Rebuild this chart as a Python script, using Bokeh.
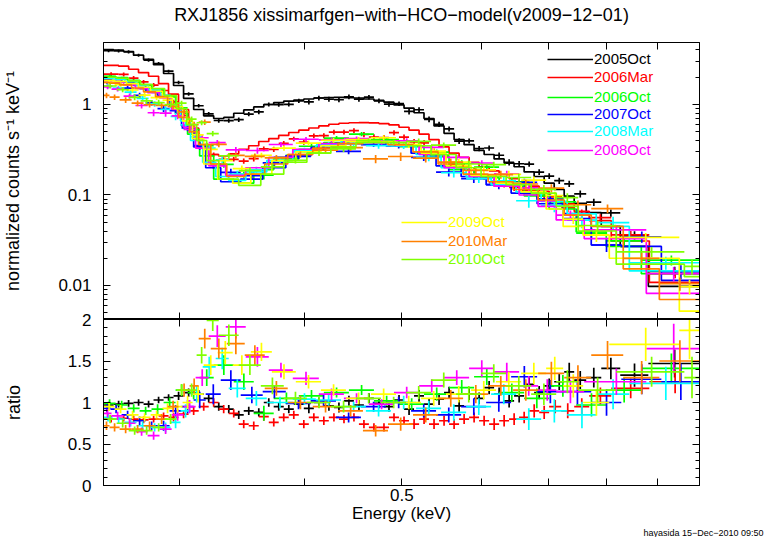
import numpy as np
from bokeh.plotting import figure
from bokeh.models import (Range1d, LogAxis, LinearAxis, FixedTicker, Legend, LegendItem,
                          Title, CustomJSTickFormatter, ColumnDataSource)
from bokeh.layouts import column
from bokeh.embed import file_html
from bokeh.resources import INLINE

FONT = "Liberation Sans"

names = ["2005Oct", "2006Mar", "2006Oct", "2007Oct", "2008Mar",
         "2008Oct", "2009Oct", "2010Mar", "2010Oct"]
colors = ["#000000", "#FF0000", "#00FF00", "#0000FF", "#00FFFF",
          "#FF00FF", "#FFFF00", "#FF8000", "#80FF00"]

# ---------------- data (energy bin edges [keV], model [counts/s/keV], ratio, ratio error)
e_2005oct = [0.2518, 0.2577, 0.2637, 0.2698, 0.2761, 0.2825, 0.2891, 0.2958, 0.3027, 0.3098,
             0.3170, 0.3244, 0.3320, 0.3397, 0.3476, 0.3557, 0.3640, 0.3724, 0.3811, 0.3900,
             0.3991, 0.4084, 0.4179, 0.4277, 0.4376, 0.4478, 0.4582, 0.4689, 0.4798, 0.4910,
             0.5025, 0.5142, 0.5261, 0.5384, 0.5509, 0.5638, 0.5769, 0.5903, 0.6041, 0.6181,
             0.6325, 0.6472, 0.6623, 0.6777, 0.6935, 0.7097, 0.7262, 0.7431, 0.7639, 0.7908,
             0.8261, 0.8812, 0.9912]
mod_2005oct = [4.05, 3.98, 3.85, 3.5, 3.15, 2.75, 2.2, 1.62, 1.17, 0.88,
               0.75, 0.70, 0.72, 0.80, 0.87, 0.94, 1.0, 1.05, 1.09, 1.12,
               1.15, 1.18, 1.19, 1.2, 1.19, 1.18, 1.15, 1.11, 1.06, 0.99,
               0.91, 0.81, 0.70, 0.58, 0.48, 0.41, 0.36, 0.31, 0.28, 0.25,
               0.225, 0.205, 0.18, 0.16, 0.135, 0.115, 0.097, 0.081, 0.064, 0.045,
               0.027, 0.0098]
rat_2005oct = [0.97, 0.98, 0.99, 1.0, 0.98, 1.03, 1.06, 1.08, 1.12, 1.1,
               1.05, 0.95, 0.92, 0.85, 0.9, 0.88, 1.0, 0.95, 0.92, 0.98,
               0.93, 1.0, 0.96, 0.94, 1.02, 0.97, 1.05, 0.99, 0.95, 1.03,
               0.92, 1.08, 0.98, 1.04, 1.12, 0.96, 1.1, 1.05, 1.18, 1.1,
               1.02, 1.08, 1.22, 1.12, 1.2, 1.25, 1.37, 1.27, 1.3, 1.41,
               1.33, 1.47]
err_2005oct = [0.04, 0.04, 0.04, 0.04, 0.04, 0.04, 0.04, 0.05, 0.05, 0.05,
               0.05, 0.05, 0.05, 0.05, 0.05, 0.05, 0.05, 0.05, 0.05, 0.05,
               0.06, 0.06, 0.06, 0.06, 0.06, 0.06, 0.06, 0.06, 0.06, 0.06,
               0.07, 0.07, 0.07, 0.07, 0.07, 0.07, 0.07, 0.07, 0.08, 0.08,
               0.08, 0.08, 0.08, 0.08, 0.09, 0.1, 0.11, 0.11, 0.12, 0.13,
               0.14, 0.17]

e_2006mar = [0.2518, 0.2607, 0.2668, 0.2729, 0.2793, 0.2858, 0.2924, 0.2992, 0.3062, 0.3134,
             0.3207, 0.3281, 0.3358, 0.3436, 0.3516, 0.3598, 0.3682, 0.3767, 0.3855, 0.3945,
             0.4037, 0.4131, 0.4227, 0.4327, 0.4427, 0.4530, 0.4635, 0.4743, 0.4854, 0.4967,
             0.5083, 0.5202, 0.5322, 0.5446, 0.5573, 0.5703, 0.5836, 0.5971, 0.6111, 0.6253,
             0.6398, 0.6547, 0.6700, 0.6856, 0.7015, 0.7212, 0.7431, 0.7692, 0.8092, 0.8832,
             0.9912]
mod_2006mar = [2.7, 2.65, 2.45, 2.25, 2.05, 1.7, 1.3, 0.88, 0.55, 0.36,
               0.28, 0.27, 0.285, 0.32, 0.35, 0.39, 0.42, 0.455, 0.49, 0.52,
               0.55, 0.58, 0.605, 0.62, 0.628, 0.63, 0.625, 0.615, 0.595, 0.56,
               0.52, 0.47, 0.41, 0.34, 0.29, 0.26, 0.23, 0.205, 0.185, 0.17,
               0.152, 0.138, 0.125, 0.11, 0.097, 0.08, 0.066, 0.052, 0.031, 0.0108]
rat_2006mar = [0.80, 0.81, 0.80, 0.79, 0.80, 0.84, 0.82, 0.86, 0.90, 0.95,
               1.0, 0.92, 0.87, 0.74, 0.72, 0.83, 0.76, 0.82, 0.85, 0.74,
               0.82, 0.78, 0.82, 0.8, 0.82, 0.74, 0.70, 0.70, 0.82, 0.78,
               0.74, 0.8, 0.74, 0.78, 0.74, 0.8, 0.82, 0.78, 0.74, 0.78,
               0.8, 0.82, 0.90, 0.88, 0.95, 0.9, 0.95, 1.08, 1.17, 1.25]
err_2006mar = [0.04, 0.04, 0.04, 0.04, 0.04, 0.04, 0.05, 0.05, 0.05, 0.05,
               0.05, 0.05, 0.05, 0.05, 0.05, 0.05, 0.05, 0.05, 0.05, 0.05,
               0.05, 0.05, 0.05, 0.05, 0.05, 0.05, 0.05, 0.05, 0.05, 0.05,
               0.06, 0.06, 0.06, 0.06, 0.06, 0.06, 0.06, 0.06, 0.07, 0.07,
               0.07, 0.07, 0.08, 0.08, 0.08, 0.09, 0.1, 0.1, 0.12, 0.14]

e_2006oct = [0.2518, 0.2589, 0.2662, 0.2736, 0.2812, 0.2891, 0.2972, 0.3055, 0.3141, 0.3244,
             0.3397, 0.3557, 0.3724, 0.3945, 0.4179, 0.4427, 0.4689, 0.4967, 0.5261, 0.5573,
             0.5903, 0.6253, 0.6623, 0.7015, 0.7465, 0.8000, 0.8671, 0.9912]
mod_2006oct = [2.05, 1.98, 1.85, 1.66, 1.48, 1.22, 0.80, 0.47, 0.27, 0.15,
               0.135, 0.19, 0.25, 0.32, 0.38, 0.41, 0.40, 0.35, 0.27, 0.19,
               0.155, 0.125, 0.098, 0.07, 0.039, 0.027, 0.0135]
rat_2006oct = [0.99, 0.97, 0.93, 0.9, 0.92, 1.0, 1.15, 1.12, 1.3, 1.45,
               1.25, 0.87, 1.05, 1.08, 1.12, 1.15, 1.02, 0.98, 1.1, 1.18,
               1.31, 1.12, 1.05, 1.2, 0.97, 1.15, 1.41]
err_2006oct = [0.05, 0.05, 0.05, 0.05, 0.06, 0.06, 0.07, 0.08, 0.1, 0.12,
               0.1, 0.09, 0.07, 0.07, 0.06, 0.06, 0.06, 0.07, 0.08, 0.09,
               0.1, 0.11, 0.12, 0.13, 0.14, 0.15, 0.18]

e_2007oct = [0.2518, 0.2559, 0.2625, 0.2698, 0.2774, 0.2851, 0.2931, 0.3013, 0.3098, 0.3185,
             0.3297, 0.3452, 0.3631, 0.3829, 0.4056, 0.4297, 0.4551, 0.4820, 0.5107, 0.5409,
             0.5730, 0.6069, 0.6428, 0.6824, 0.7245, 0.7728, 0.8281, 0.9080, 0.9912]
mod_2007oct = [1.9, 1.88, 1.78, 1.62, 1.45, 1.25, 0.95, 0.58, 0.34, 0.2,
               0.14, 0.15, 0.2, 0.27, 0.33, 0.37, 0.38, 0.35, 0.29, 0.21,
               0.16, 0.13, 0.105, 0.08, 0.055, 0.028, 0.027, 0.0114]
rat_2007oct = [0.93, 0.92, 0.85, 0.78, 0.72, 0.72, 0.9, 0.95, 1.03, 1.1,
               1.27, 1.09, 1.13, 0.99, 1.02, 0.82, 0.95, 1.0, 0.9, 0.85,
               0.95, 1.0, 1.31, 1.13, 1.13, 1.0, 1.28, 1.25]
err_2007oct = [0.05, 0.05, 0.05, 0.05, 0.05, 0.06, 0.07, 0.08, 0.1, 0.12,
               0.12, 0.1, 0.08, 0.07, 0.07, 0.06, 0.06, 0.07, 0.08, 0.09,
               0.1, 0.11, 0.13, 0.14, 0.15, 0.16, 0.18, 0.22]

e_2008mar = [0.2518, 0.2571, 0.2643, 0.2717, 0.2793, 0.2871, 0.2938, 0.3006, 0.3076, 0.3163,
             0.3259, 0.3358, 0.3492, 0.3665, 0.3891, 0.4103, 0.4347, 0.4603, 0.4876, 0.5166,
             0.5472, 0.5796, 0.6139, 0.6502, 0.6887, 0.7312, 0.7817, 0.8435, 0.9912]
mod_2008mar = [1.95, 1.9, 1.8, 1.62, 1.45, 1.26, 0.97, 0.66, 0.4, 0.23,
               0.16, 0.145, 0.18, 0.24, 0.3, 0.35, 0.39, 0.39, 0.35, 0.28,
               0.2, 0.16, 0.13, 0.108, 0.085, 0.062, 0.045, 0.0145]
rat_2008mar = [0.82, 0.8, 0.76, 0.72, 0.7, 0.7, 0.76, 0.9, 1.1, 1.43,
               1.53, 1.17, 1.05, 1.0, 1.04, 1.03, 0.95, 0.9, 1.0, 0.93,
               0.88, 0.95, 1.1, 0.8, 0.9, 0.85, 1.1, 1.23]
err_2008mar = [0.05, 0.05, 0.05, 0.05, 0.05, 0.06, 0.07, 0.08, 0.1, 0.12,
               0.13, 0.11, 0.09, 0.07, 0.07, 0.07, 0.06, 0.07, 0.08, 0.09,
               0.1, 0.1, 0.12, 0.13, 0.14, 0.16, 0.18, 0.2]

e_2008oct = [0.2518, 0.2565, 0.2637, 0.2710, 0.2787, 0.2864, 0.2945, 0.3027, 0.3112, 0.3207,
             0.3335, 0.3492, 0.3682, 0.3891, 0.4131, 0.4376, 0.4635, 0.4910, 0.5202, 0.5509,
             0.5836, 0.6181, 0.6547, 0.6840, 0.7130, 0.7604, 0.8771, 0.9912]
mod_2008oct = [1.8, 1.76, 1.65, 1.5, 1.35, 1.18, 0.88, 0.56, 0.33, 0.21,
               0.165, 0.2, 0.26, 0.32, 0.37, 0.4, 0.39, 0.355, 0.28, 0.2,
               0.16, 0.125, 0.1, 0.075, 0.053, 0.033, 0.0082]
rat_2008oct = [0.87, 0.84, 0.75, 0.65, 0.6, 0.68, 0.85, 0.95, 1.3, 1.8,
               1.91, 1.55, 1.39, 1.29, 1.1, 1.05, 0.98, 1.12, 1.2, 1.3,
               1.41, 1.37, 1.2, 1.15, 1.13, 1.25, 1.65]
err_2008oct = [0.05, 0.05, 0.05, 0.05, 0.05, 0.06, 0.07, 0.08, 0.1, 0.13,
               0.14, 0.12, 0.09, 0.08, 0.07, 0.06, 0.06, 0.07, 0.08, 0.09,
               0.1, 0.11, 0.12, 0.13, 0.14, 0.16, 0.3]

e_2009oct = [0.2518, 0.2583, 0.2655, 0.2729, 0.2806, 0.2884, 0.2951, 0.3020, 0.3090, 0.3170,
             0.3274, 0.3389, 0.3533, 0.3708, 0.3918, 0.4151, 0.4396, 0.4657, 0.4933, 0.5226,
             0.5534, 0.5863, 0.6209, 0.6578, 0.6967, 0.7245, 0.7586, 0.8055, 0.9463, 0.9912]
mod_2009oct = [1.85, 1.8, 1.7, 1.55, 1.4, 1.2, 0.95, 0.66, 0.42, 0.22,
               0.15, 0.135, 0.17, 0.24, 0.3, 0.35, 0.39, 0.39, 0.36, 0.29,
               0.21, 0.165, 0.135, 0.108, 0.07, 0.045, 0.036, 0.02, 0.0052]
rat_2009oct = [0.95, 0.92, 0.85, 0.82, 0.85, 0.93, 0.95, 1.0, 1.1, 1.45,
               1.6, 1.45, 1.61, 1.37, 1.25, 1.15, 1.05, 1.1, 1.0, 1.05,
               1.1, 1.15, 1.25, 1.35, 1.41, 1.2, 1.0, 1.7, 1.87]
err_2009oct = [0.05, 0.05, 0.05, 0.05, 0.05, 0.06, 0.07, 0.08, 0.1, 0.12,
               0.14, 0.12, 0.11, 0.09, 0.08, 0.07, 0.07, 0.07, 0.08, 0.09,
               0.1, 0.11, 0.12, 0.13, 0.14, 0.14, 0.16, 0.2, 0.35]

e_2010mar = [0.2518, 0.2553, 0.2613, 0.2686, 0.2761, 0.2838, 0.2918, 0.2992, 0.3069, 0.3134,
             0.3222, 0.3343, 0.3484, 0.3648, 0.3846, 0.4074, 0.4317, 0.4572, 0.4843, 0.5130,
             0.5434, 0.5756, 0.6097, 0.6457, 0.6840, 0.7262, 0.7728, 0.8318, 0.9038, 0.9912]
mod_2010mar = [1.75, 1.72, 1.65, 1.52, 1.38, 1.22, 1.0, 0.72, 0.5, 0.36,
               0.22, 0.16, 0.17, 0.22, 0.28, 0.33, 0.37, 0.38, 0.36, 0.3,
               0.22, 0.17, 0.14, 0.115, 0.088, 0.06, 0.045, 0.0153, 0.007]
rat_2010mar = [0.72, 0.7, 0.68, 0.68, 0.72, 0.8, 0.95, 1.15, 1.2, 1.77,
               1.65, 1.71, 1.57, 1.17, 1.0, 0.95, 0.9, 0.66, 0.74, 0.85,
               1.05, 1.1, 1.2, 1.15, 1.35, 1.3, 1.57, 1.3, 1.5]
err_2010mar = [0.05, 0.05, 0.05, 0.05, 0.05, 0.06, 0.07, 0.08, 0.09, 0.12,
               0.12, 0.13, 0.12, 0.09, 0.08, 0.07, 0.07, 0.07, 0.08, 0.09,
               0.1, 0.11, 0.12, 0.13, 0.14, 0.15, 0.17, 0.2, 0.25]

e_2010oct = [0.2518, 0.2595, 0.2668, 0.2742, 0.2819, 0.2898, 0.2978, 0.3048, 0.3119, 0.3192,
             0.3282, 0.3436, 0.3615, 0.3811, 0.4019, 0.4247, 0.4499, 0.4765, 0.5048, 0.5347,
             0.5664, 0.5999, 0.6354, 0.6731, 0.7130, 0.7500, 0.8185, 0.9573, 0.9912]
mod_2010oct = [2.0, 1.95, 1.82, 1.66, 1.5, 1.25, 0.9, 0.6, 0.4, 0.24,
               0.15, 0.128, 0.17, 0.23, 0.29, 0.34, 0.38, 0.38, 0.35, 0.28,
               0.2, 0.16, 0.13, 0.105, 0.075, 0.04, 0.0172, 0.0125]
rat_2010oct = [0.8, 0.75, 0.66, 0.66, 0.7, 0.8, 1.15, 1.15, 1.57, 1.99,
               1.81, 1.45, 1.2, 1.05, 1.0, 0.95, 1.05, 1.0, 1.12, 1.27,
               1.1, 1.35, 1.2, 1.1, 1.25, 1.15, 1.37, 1.3]
err_2010oct = [0.05, 0.05, 0.05, 0.05, 0.05, 0.06, 0.07, 0.08, 0.1, 0.13,
               0.13, 0.12, 0.1, 0.08, 0.07, 0.07, 0.06, 0.07, 0.08, 0.09,
               0.1, 0.11, 0.12, 0.13, 0.14, 0.15, 0.18, 0.25]

series = [
    (e_2005oct, mod_2005oct, rat_2005oct, err_2005oct),
    (e_2006mar, mod_2006mar, rat_2006mar, err_2006mar),
    (e_2006oct, mod_2006oct, rat_2006oct, err_2006oct),
    (e_2007oct, mod_2007oct, rat_2007oct, err_2007oct),
    (e_2008mar, mod_2008mar, rat_2008mar, err_2008mar),
    (e_2008oct, mod_2008oct, rat_2008oct, err_2008oct),
    (e_2009oct, mod_2009oct, rat_2009oct, err_2009oct),
    (e_2010mar, mod_2010mar, rat_2010mar, err_2010mar),
    (e_2010oct, mod_2010oct, rat_2010oct, err_2010oct),
]

title_text = "RXJ1856 xissimarfgen\u2212with\u2212HCO\u2212model(v2009\u221212\u221201)"
footer_text = "hayasida 15\u2212Dec\u22122010 09:50"

E_MIN, E_MAX = 0.2518, 0.9912
FLUX_MIN, FLUX_MAX = 0.00421, 4.84
x_ticks = [0.3, 0.4, 0.5, 0.6, 0.7, 0.8, 0.9]
flux_ticks = [0.01, 0.1, 1]
flux_minor = [0.005, 0.006, 0.007, 0.008, 0.009, 0.02, 0.03, 0.04, 0.05, 0.06, 0.07, 0.08, 0.09,
              0.2, 0.3, 0.4, 0.5, 0.6, 0.7, 0.8, 0.9, 2, 3, 4]
ratio_ticks = [0, 0.5, 1, 1.5, 2]
ratio_minor = [0.1, 0.2, 0.3, 0.4, 0.6, 0.7, 0.8, 0.9, 1.1, 1.2, 1.3, 1.4, 1.6, 1.7, 1.8, 1.9]

# ---------------- figures
LW = 1.7
OVERLAP = 11      # lower canvas slides up under the upper one so its "2" label is whole
xr = Range1d(E_MIN, E_MAX)

p1 = figure(frame_width=596, frame_height=277, x_axis_type="log", y_axis_type="log", title=None,
            x_range=xr, y_range=Range1d(FLUX_MIN, FLUX_MAX),
            toolbar_location=None, output_backend="svg",
            min_border_left=103, min_border_right=74, min_border_top=42, min_border_bottom=0)
p2 = figure(frame_width=596, frame_height=166, x_axis_type="log", title=None,
            x_range=xr, y_range=Range1d(0, 2),
            toolbar_location=None, output_backend="svg",
            min_border_left=103, min_border_right=74, min_border_top=OVERLAP, min_border_bottom=52)
try:
    p2.margin = (-OVERLAP, 0, 0, 0)
except Exception:
    p2.styles = {"margin-top": "-%dpx" % OVERLAP}

for p in (p1, p2):
    p.grid.visible = False
    p.outline_line_color = "black"
    p.outline_line_width = 1
    p.background_fill_color = "white"
p1.border_fill_color = "white"
p2.border_fill_alpha = 0

fmt_plain = CustomJSTickFormatter(code="return String(tick);")
fmt_half = CustomJSTickFormatter(code="return (Math.abs(tick - 0.5) < 1e-9) ? '0.5' : '';")


def style(ax, ticks, minor, labelled, fmt=None, tick_in=7, minor_in=4):
    ax.ticker = FixedTicker(ticks=ticks, minor_ticks=minor)
    ax.major_tick_in = tick_in
    ax.major_tick_out = 0
    ax.minor_tick_in = minor_in
    ax.minor_tick_out = 0
    ax.axis_line_color = "black"
    ax.major_tick_line_color = "black"
    ax.minor_tick_line_color = "black"
    if labelled:
        ax.formatter = fmt
        ax.major_label_text_font = FONT
        ax.major_label_text_font_size = "17px"
        ax.major_label_text_color = "black"
    else:
        ax.major_label_text_color = None
        ax.major_label_standoff = 0
    ax.axis_label_text_font = FONT
    ax.axis_label_text_font_size = "18px"
    ax.axis_label_text_font_style = "normal"
    ax.axis_label_text_color = "black"


# upper panel axes
ax = p1.yaxis[0]
style(ax, flux_ticks, flux_minor, True, fmt_plain)
ax.major_label_standoff = 12
ax.axis_label = "normalized counts s\u207b\u00b9 keV\u207b\u00b9"
ax.axis_label_standoff = 32
style(p1.xaxis[0], x_ticks, [], False)
ax_r = LogAxis()
style(ax_r, flux_ticks, flux_minor, False)
p1.add_layout(ax_r, "right")
ax_t = LogAxis()
style(ax_t, x_ticks, [], False)
ax_t.axis_label = title_text          # plot title, centred over the frame
ax_t.axis_label_standoff = 18
p1.add_layout(ax_t, "above")

# lower panel axes
ax = p2.yaxis[0]
style(ax, ratio_ticks, ratio_minor, True, fmt_plain)
ax.major_label_standoff = 12
ax.axis_label = "ratio"
ax.axis_label_standoff = 41
ax = p2.xaxis[0]
style(ax, x_ticks, [], True, fmt_half)
ax.major_label_standoff = 3
ax.axis_label = "Energy (keV)"
ax.axis_label_standoff = 0
ax.axis_label_text_font_size = "17px"
ax_r2 = LinearAxis()
style(ax_r2, ratio_ticks, ratio_minor, False)
p2.add_layout(ax_r2, "right")
ax_t2 = LogAxis()
style(ax_t2, x_ticks, [], False)
p2.add_layout(ax_t2, "above")

footer = Title(text=footer_text, align="right", vertical_align="bottom", offset=-64, standoff=0,
               text_font=FONT, text_font_size="9px", text_font_style="normal", text_color="black")
p2.add_layout(footer, "below")

# ---------------- glyphs
legend_renderers = []
for (edges, model, ratio, rerr), color in zip(series, colors):
    e = np.asarray(edges, dtype=float)
    m = np.asarray(model, dtype=float)
    r = np.asarray(ratio, dtype=float)
    s = np.asarray(rerr, dtype=float)
    lo, hi = e[:-1], e[1:]
    mid = 0.5 * (lo + hi)
    flux = m * r
    ferr = m * s
    step_src = ColumnDataSource(dict(x=e, y=np.append(m, m[-1])))
    p1.step("x", "y", source=step_src, mode="after", line_color=color, line_width=LW)
    h = p1.segment(lo, flux, hi, flux, line_color=color, line_width=LW)
    p1.segment(mid, flux - ferr, mid, flux + ferr, line_color=color, line_width=LW)
    p2.segment(lo, r, hi, r, line_color=color, line_width=LW)
    p2.segment(mid, r - s, mid, r + s, line_color=color, line_width=LW)
    legend_renderers.append(h)

# ---------------- legends (one per data set, coloured label)
leg_pos = [(444, 252), (444, 234), (444, 214), (444, 197), (444, 180), (444, 161),
           (298, 89), (298, 70), (298, 52)]
for name, color, rend, loc in zip(names, colors, legend_renderers, leg_pos):
    leg = Legend(items=[LegendItem(label=name, renderers=[rend])], location=loc,
                 label_text_font=FONT, label_text_font_size="15px", label_text_color=color,
                 glyph_width=46, glyph_height=16, label_height=16, label_standoff=1,
                 padding=0, margin=0, spacing=0,
                 border_line_alpha=0, background_fill_alpha=0)
    p1.add_layout(leg)

layout = column(p1, p2, spacing=0)
open("out.html", "w").write(file_html(layout, INLINE))
